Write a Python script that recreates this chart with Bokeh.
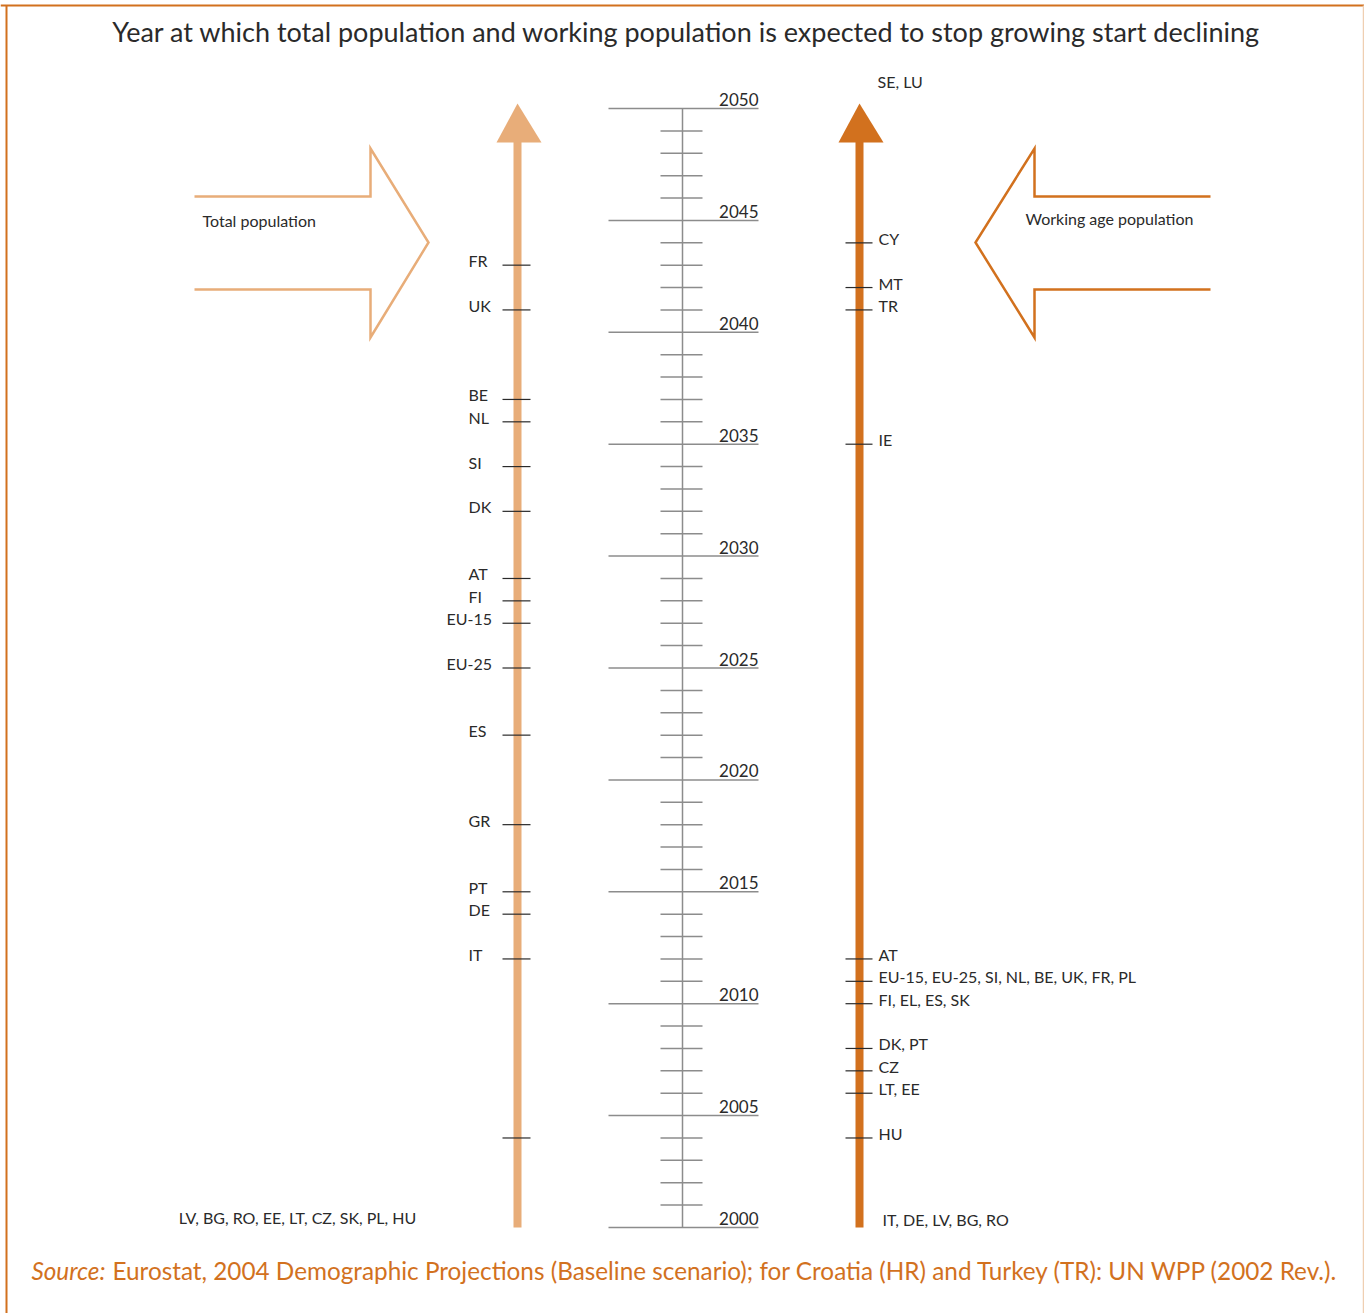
from bokeh.plotting import figure
from bokeh.models import Range1d
from bokeh.embed import file_html
from bokeh.resources import INLINE
from bokeh.core.properties import value

# ---------------- data ----------------
title = "Year at which total population and working population is expected to stop growing start declining"
scale_start = 2000
scale_end = 2050
major_years = [2000, 2005, 2010, 2015, 2020, 2025, 2030, 2035, 2040, 2045, 2050]

total_labels = ["FR", "UK", "BE", "NL", "SI", "DK", "AT", "FI", "EU-15", "EU-25",
                "ES", "GR", "PT", "DE", "IT", ""]
total_years = [2043, 2041, 2037, 2036, 2034, 2032, 2029, 2028, 2027, 2025,
               2022, 2018, 2015, 2014, 2012, 2004]
total_before_label = "LV, BG, RO, EE, LT, CZ, SK, PL, HU"
total_before_year = 2000

working_labels = ["CY", "MT", "TR", "IE", "AT", "EU-15, EU-25, SI, NL, BE, UK, FR, PL",
                  "FI, EL, ES, SK", "DK, PT", "CZ", "LT, EE", "HU"]
working_years = [2044, 2042, 2041, 2035, 2012, 2011, 2010, 2008, 2007, 2006, 2004]
working_after_label = "SE, LU"
working_after_year = 2051
working_before_label = "IT, DE, LV, BG, RO"
working_before_year = 2000

series_names = ["Total population", "Working age population"]
source_italic = "Source:"
source_rest = "Eurostat, 2004 Demographic Projections (Baseline scenario); for Croatia (HR) and Turkey (TR): UN WPP (2002 Rev.)."

# ---------------- layout helpers ----------------
W, H = 1364, 1313
PX = 22.38          # pixels per year
Y2000 = 1227        # screen y of year 2000


def py(screen_y):
    return 2000 + (Y2000 - screen_y) / PX


def px(screen_x):
    return screen_x


LIGHT = "#E8AD79"
DARK = "#D2711E"
GRAY = "#8C8C8C"
INK = "#2A2A2A"
FONT = value("Lato")
LAB = "16px"

p = figure(width=W, height=H, x_range=Range1d(0, W), y_range=Range1d(py(H), py(0)),
           output_backend="svg", toolbar_location=None, min_border=0)
p.axis.visible = False
p.grid.visible = False
p.outline_line_color = None
p.background_fill_color = "white"
p.border_fill_color = "white"

# frame
p.segment(x0=[0], x1=[W], y0=[py(5)], y1=[py(5)], line_color=DARK, line_width=2)
p.segment(x0=[6], x1=[6], y0=[py(5)], y1=[py(H)], line_color=DARK, line_width=2)
p.segment(x0=[1363], x1=[1363], y0=[py(5)], y1=[py(H)], line_color="#EFCFB2", line_width=1.5)

# title
p.text(x=[px(686)], y=[py(31)], text=[title], text_align="center", text_baseline="middle",
       text_font=FONT, text_font_size="27px", text_color=INK)

# central scale
p.segment(x0=[px(682)], x1=[px(682)], y0=[scale_start], y1=[scale_end], line_color=GRAY, line_width=1.5)
minor_years = [y for y in range(scale_start, scale_end + 1) if y not in major_years]
p.segment(x0=px(660), x1=px(702), y0=minor_years, y1=minor_years, line_color=GRAY, line_width=1.5)
p.segment(x0=px(608), x1=px(758), y0=major_years, y1=major_years, line_color=GRAY, line_width=1.5)
p.text(x=px(758), y=[y + 9 / PX for y in major_years], text=[str(y) for y in major_years],
       text_align="right", text_baseline="middle", text_font=FONT, text_font_size="17px",
       text_color=INK)

# vertical arrows
p.quad(left=[px(513)], right=[px(521)], bottom=[scale_start], top=[py(141)], fill_color=LIGHT, line_color=None)
p.patch(x=[px(496), px(517), px(541)], y=[py(142), py(103), py(142)], fill_color=LIGHT, line_color=None)
p.quad(left=[px(855)], right=[px(863)], bottom=[scale_start], top=[py(141)], fill_color=DARK, line_color=None)
p.patch(x=[px(838), px(859), px(883)], y=[py(142), py(103), py(142)], fill_color=DARK, line_color=None)

# total population ticks + labels
p.segment(x0=px(502), x1=px(530), y0=total_years, y1=total_years, line_color=INK, line_width=1.2)
p.text(x=[px(468) if len(t) <= 2 else px(446) for t in total_labels],
       y=[y + 4.5 / PX for y in total_years], text=total_labels,
       text_align="left", text_baseline="middle", text_font=FONT, text_font_size=LAB, text_color=INK)
p.text(x=[px(297)], y=[total_before_year + 10 / PX], text=[total_before_label],
       text_align="center", text_baseline="middle", text_font=FONT, text_font_size=LAB, text_color=INK)

# working age population ticks + labels
p.segment(x0=px(845), x1=px(872), y0=working_years, y1=working_years, line_color=INK, line_width=1.2)
p.text(x=px(878), y=[y + 4.5 / PX for y in working_years], text=working_labels,
       text_align="left", text_baseline="middle", text_font=FONT, text_font_size=LAB, text_color=INK)
p.text(x=[px(877)], y=[working_after_year + 5 / PX], text=[working_after_label],
       text_align="left", text_baseline="middle", text_font=FONT, text_font_size=LAB, text_color=INK)
p.text(x=[px(882)], y=[working_before_year + 8 / PX], text=[working_before_label],
       text_align="left", text_baseline="middle", text_font=FONT, text_font_size=LAB, text_color=INK)

# hollow arrows
lx = [194, 370, 370, 428, 370, 370, 194]
ly = [196, 196, 148, 242, 337, 289, 289]
p.line(x=[px(v) for v in lx], y=[py(v) for v in ly], line_color=LIGHT, line_width=2.5, line_join="miter")
rx = [1210, 1034, 1034, 975, 1034, 1034, 1210]
p.line(x=[px(v) for v in rx], y=[py(v) for v in ly], line_color=DARK, line_width=2.5, line_join="miter")
p.text(x=[px(202)], y=[py(220)], text=[series_names[0]], text_align="left", text_baseline="middle",
       text_font=FONT, text_font_size=LAB, text_color=INK)
p.text(x=[px(1025)], y=[py(218)], text=[series_names[1]], text_align="left", text_baseline="middle",
       text_font=FONT, text_font_size=LAB, text_color=INK)

# source
p.text(x=[px(105)], y=[py(1270)], text=[source_italic], text_align="right", text_baseline="middle",
       text_font=FONT, text_font_style="italic", text_font_size="24.3px", text_color=DARK)
p.text(x=[px(112)], y=[py(1270)], text=[source_rest], text_align="left", text_baseline="middle",
       text_font=FONT, text_font_size="24.3px", text_color=DARK)

open("out.html", "w").write(file_html(p, INLINE))
